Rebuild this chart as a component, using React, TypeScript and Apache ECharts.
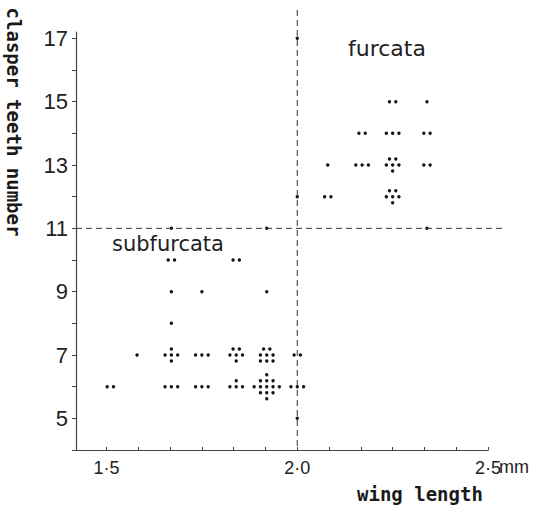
import React, { useEffect, useRef } from "react";
import * as echarts from "echarts";

// wing length (mm), clasper teeth number, number of individuals
const subfurcataX = [1.51, 1.58, 1.67, 1.67, 1.67, 1.67, 1.67, 1.67, 1.75, 1.75, 1.75, 1.84, 1.84, 1.84, 1.92, 1.92, 1.92, 1.92, 2.0, 2.0, 2.0];
const subfurcataY = [6, 7, 6, 7, 8, 9, 10, 11, 6, 7, 9, 6, 7, 10, 6, 7, 9, 11, 5, 6, 7];
const subfurcataN = [2, 1, 3, 5, 1, 1, 2, 1, 3, 3, 1, 4, 6, 2, 13, 8, 1, 1, 1, 3, 2];

const furcataX = [2.0, 2.0, 2.08, 2.08, 2.17, 2.17, 2.25, 2.25, 2.25, 2.25, 2.34, 2.34, 2.34, 2.34];
const furcataY = [12, 17, 12, 13, 13, 14, 12, 13, 14, 15, 11, 13, 14, 15];
const furcataN = [1, 1, 2, 1, 3, 2, 6, 6, 3, 2, 1, 2, 2, 1];

const xTickValues = [1.5, 1.5833, 1.6667, 1.75, 1.8333, 1.9167, 2.0, 2.0833, 2.1667, 2.25, 2.3333, 2.4167, 2.5];
const xLabelValues = [1.5, 2.0, 2.5];
const yTickValues = [4, 5, 6, 7, 8, 9, 10, 11, 12, 13, 14, 15, 16, 17];
const yLabelValues = [5, 7, 9, 11, 13, 15, 17];

const ROWS: Record<number, number[]> = {
  1: [1],
  2: [2],
  3: [3],
  4: [1, 3],
  5: [1, 3, 1],
  6: [2, 3, 1],
  8: [2, 3, 3],
  13: [1, 3, 5, 3, 1],
};

function clusterOffsets(n: number): number[][] {
  const rows = ROWS[n] || [n];
  const mid = Math.floor(rows.length / 2);
  const out: number[][] = [];
  rows.forEach((k, r) => {
    for (let i = 0; i < k; i++) out.push([i - (k - 1) / 2, r - mid]);
  });
  return out;
}

function renderCluster(params: any, api: any) {
  const c = api.coord([api.value(0), api.value(1)]);
  const n = api.value(2);
  return {
    type: "group",
    children: clusterOffsets(n).map(([dx, dy]) => ({
      type: "circle",
      shape: { cx: c[0] + dx * 6.3, cy: c[1] + dy * 6, r: 1.7 },
      style: { fill: "#151515" },
    })),
  };
}

const zip = (xs: number[], ys: number[], ns: number[]) => xs.map((x, i) => [x, ys[i], ns[i]]);

export default function App() {
  const ref = useRef<HTMLDivElement>(null);
  useEffect(() => {
    if (!ref.current) return;
    const chart = echarts.init(ref.current, null, { renderer: "svg" });
    const labelFont = "'Liberation Sans', Arial, sans-serif";
    const nameFont = "'DejaVu Sans', sans-serif";
    chart.setOption({
      animation: false,
      backgroundColor: "#ffffff",
      grid: { left: 76, right: 57, top: 32, bottom: 63 },
      xAxis: {
        type: "value",
        min: 1.42,
        max: 2.5,
        axisLine: { show: true, lineStyle: { color: "#444", width: 1.2 } },
        axisTick: { show: true, inside: true, length: 3, customValues: xTickValues, lineStyle: { color: "#444" } },
        axisLabel: {
          customValues: xLabelValues,
          margin: 9,
          fontSize: 18,
          fontFamily: labelFont,
          color: "#222",
          formatter: (v: number) => v.toFixed(1).replace(".", "·"),
        },
        splitLine: { show: false },
      },
      yAxis: {
        type: "value",
        min: 4,
        max: 17.2,
        axisLine: { show: true, lineStyle: { color: "#444", width: 1.2 } },
        axisTick: { show: true, length: 4, customValues: yTickValues, lineStyle: { color: "#444" } },
        axisLabel: {
          customValues: yLabelValues,
          margin: 8,
          fontSize: 22,
          fontFamily: labelFont,
          color: "#222",
        },
        splitLine: { show: false },
      },
      series: [
        { name: "subfurcata", type: "custom", renderItem: renderCluster, data: zip(subfurcataX, subfurcataY, subfurcataN), clip: false },
        { name: "furcata", type: "custom", renderItem: renderCluster, data: zip(furcataX, furcataY, furcataN), clip: false },
      ],
    });
    const cross = chart.convertToPixel({ gridIndex: 0 }, [2.0, 11]) as number[];
    const corner = chart.convertToPixel({ gridIndex: 0 }, [2.5, 4]) as number[];
    const monoFont = "'DejaVu Sans Mono', monospace";
    const dashStyle = { stroke: "#333", lineWidth: 1, lineDash: [6, 4] };
    chart.setOption({
      graphic: [
        { type: "line", shape: { x1: cross[0], y1: 10, x2: cross[0], y2: corner[1] }, style: dashStyle, z: 5 },
        { type: "line", shape: { x1: 76, y1: cross[1], x2: 506, y2: cross[1] }, style: dashStyle, z: 5 },
        {
          type: "text",
          x: corner[0] + 11,
          y: corner[1] + 17,
          style: { text: "mm", font: `18px ${labelFont}`, fill: "#222", textAlign: "left", textVerticalAlign: "middle" },
        },
        {
          type: "text",
          x: 357,
          y: 494,
          style: { text: "wing length", font: `bold 19px ${monoFont}`, fill: "#1a1a1a", textAlign: "left", textVerticalAlign: "middle" },
        },
        {
          type: "text",
          x: 14,
          y: 122,
          rotation: -Math.PI / 2,
          style: { text: "clasper teeth number", font: `bold 19px ${monoFont}`, fill: "#1a1a1a", textAlign: "center", textVerticalAlign: "middle" },
        },
        {
          type: "text",
          x: 348,
          y: 48,
          style: { text: "furcata", font: `22px ${nameFont}`, fill: "#222", textAlign: "left", textVerticalAlign: "middle" },
        },
        {
          type: "text",
          x: 112,
          y: 244,
          style: { text: "subfurcata", font: `21px ${nameFont}`, fill: "#222", textAlign: "left", textVerticalAlign: "middle" },
        },
      ],
    });
    return () => chart.dispose();
  }, []);
  return <div ref={ref} style={{ position: "fixed", left: 0, top: 0, width: 545, height: 513 }} />;
}
